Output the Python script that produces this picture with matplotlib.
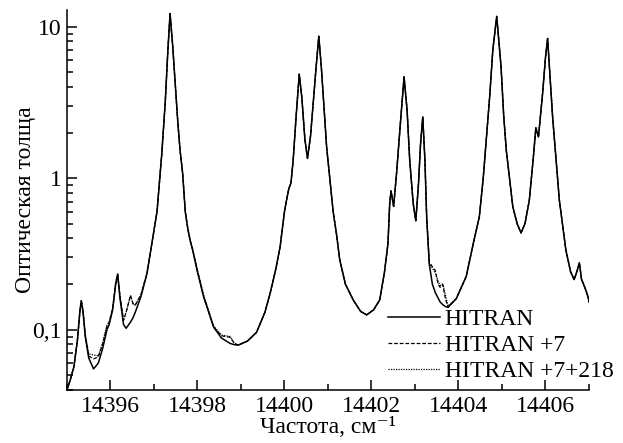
"""
Optical depth spectrum near 14400 cm^-1: HITRAN vs. HITRAN with extra lines.

Log-scale y-axis, three overlaid curves (solid / dashed / dotted).
"""

import matplotlib
matplotlib.use("Agg")
import matplotlib.pyplot as plt
from matplotlib.ticker import FixedLocator, LogLocator, NullFormatter

# ---------------------------------------------------------------------------
# Data
# ---------------------------------------------------------------------------

freq = [
    14395.00, 14395.08, 14395.16, 14395.24, 14395.30, 14395.33, 14395.37,
    14395.42, 14395.50, 14395.61, 14395.72, 14395.82, 14395.92, 14395.97,
    14396.05, 14396.12, 14396.165, 14396.22, 14396.30, 14396.36, 14396.46,
    14396.52, 14396.57, 14396.70, 14396.84, 14396.97, 14397.07, 14397.18,
    14397.26, 14397.32, 14397.37, 14397.43, 14397.49, 14397.55, 14397.60,
    14397.66, 14397.72, 14397.78, 14397.83, 14397.89, 14397.99, 14398.14,
    14398.37, 14398.55, 14398.75, 14398.85, 14398.94, 14399.15, 14399.36,
    14399.55, 14399.67, 14399.80, 14399.90, 14400.00, 14400.05, 14400.10,
    14400.15, 14400.20, 14400.27, 14400.34, 14400.40, 14400.47, 14400.53,
    14400.60, 14400.66, 14400.73, 14400.79, 14400.85, 14400.90, 14400.97,
    14401.05, 14401.12, 14401.20, 14401.27, 14401.40, 14401.58, 14401.75,
    14401.89, 14402.05, 14402.19, 14402.30, 14402.38, 14402.42, 14402.45,
    14402.51, 14402.58, 14402.66, 14402.75, 14402.82, 14402.88, 14402.96,
    14403.02, 14403.08, 14403.13, 14403.18, 14403.23, 14403.27, 14403.33,
    14403.40, 14403.47, 14403.53, 14403.58, 14403.64, 14403.70, 14403.76,
    14403.95, 14404.18, 14404.35, 14404.48, 14404.57, 14404.64, 14404.72,
    14404.79, 14404.88, 14404.98, 14405.04, 14405.10, 14405.25, 14405.35,
    14405.44, 14405.53, 14405.63, 14405.72, 14405.78, 14405.84, 14405.935,
    14406.00, 14406.05, 14406.10, 14406.165, 14406.32, 14406.47, 14406.58,
    14406.66, 14406.73, 14406.78, 14406.83, 14406.87, 14406.93, 14406.99,
    14407.00,
]

tau_hitran = [
    0.040, 0.047, 0.057, 0.085, 0.135, 0.155, 0.130,
    0.090, 0.065, 0.055, 0.060, 0.075, 0.100, 0.108,
    0.135, 0.200, 0.232, 0.160, 0.108, 0.102, 0.112,
    0.120, 0.130, 0.165, 0.235, 0.40, 0.60, 1.45,
    3.2, 7.0, 12.2, 7.5, 4.2, 2.3, 1.53,
    1.07, 0.60, 0.46, 0.39, 0.335, 0.247, 0.165,
    0.104, 0.088, 0.081, 0.0795, 0.079, 0.084, 0.096,
    0.130, 0.173, 0.25, 0.352, 0.60, 0.72, 0.85,
    0.93, 1.31, 2.6, 4.86, 3.4, 1.8, 1.35,
    1.9, 3.11, 5.5, 8.65, 5.3, 3.2, 1.6,
    0.95, 0.60, 0.42, 0.29, 0.20, 0.157, 0.132,
    0.125, 0.135, 0.157, 0.24, 0.37, 0.68, 0.824,
    0.65, 1.1, 2.2, 4.66, 2.8, 1.31, 0.68,
    0.523, 0.90, 1.7, 2.54, 1.3, 0.55, 0.27,
    0.20, 0.175, 0.162, 0.152, 0.146, 0.142, 0.140,
    0.160, 0.225, 0.38, 0.555, 1.0, 1.8, 3.5,
    7.0, 11.7, 5.43, 2.6, 1.53, 0.647, 0.50,
    0.435, 0.50, 0.716, 1.35, 2.15, 1.87, 3.62,
    6.2, 8.36, 5.0, 2.54, 0.716, 0.335, 0.240,
    0.214, 0.245, 0.276, 0.215, 0.201, 0.182, 0.160,
    0.152,
]

tau_plus7 = [
    0.040, 0.047, 0.057, 0.085, 0.135, 0.155, 0.132,
    0.092, 0.067, 0.064, 0.066, 0.080, 0.105, 0.112,
    0.138, 0.202, 0.232, 0.165, 0.115, 0.130, 0.168,
    0.148, 0.145, 0.170, 0.235, 0.40, 0.60, 1.45,
    3.2, 7.0, 12.2, 7.5, 4.2, 2.3, 1.53,
    1.07, 0.60, 0.46, 0.39, 0.335, 0.250, 0.167,
    0.104, 0.091, 0.089, 0.081, 0.079, 0.084, 0.096,
    0.130, 0.173, 0.25, 0.352, 0.60, 0.72, 0.85,
    0.93, 1.31, 2.6, 4.86, 3.4, 1.8, 1.35,
    1.9, 3.11, 5.5, 8.65, 5.3, 3.2, 1.6,
    0.95, 0.60, 0.42, 0.29, 0.20, 0.157, 0.132,
    0.125, 0.135, 0.157, 0.24, 0.37, 0.68, 0.824,
    0.65, 1.1, 2.2, 4.66, 2.8, 1.31, 0.68,
    0.523, 0.90, 1.7, 2.54, 1.3, 0.55, 0.28,
    0.26, 0.245, 0.20, 0.19, 0.198, 0.160, 0.141,
    0.160, 0.225, 0.38, 0.555, 1.0, 1.8, 3.5,
    7.0, 11.7, 5.43, 2.6, 1.53, 0.647, 0.50,
    0.435, 0.50, 0.716, 1.35, 2.15, 1.87, 3.62,
    6.2, 8.36, 5.0, 2.54, 0.716, 0.335, 0.240,
    0.214, 0.245, 0.276, 0.215, 0.201, 0.182, 0.160,
    0.152,
]

tau_plus7_218 = [
    0.040, 0.047, 0.057, 0.085, 0.135, 0.155, 0.133,
    0.094, 0.069, 0.068, 0.067, 0.082, 0.107, 0.112,
    0.138, 0.202, 0.232, 0.165, 0.116, 0.130, 0.168,
    0.148, 0.145, 0.170, 0.235, 0.40, 0.60, 1.45,
    3.2, 7.0, 12.2, 7.5, 4.2, 2.3, 1.53,
    1.07, 0.60, 0.46, 0.39, 0.340, 0.255, 0.170,
    0.106, 0.092, 0.090, 0.081, 0.079, 0.084, 0.096,
    0.130, 0.173, 0.25, 0.352, 0.60, 0.72, 0.85,
    0.93, 1.31, 2.6, 4.86, 3.4, 1.8, 1.35,
    1.9, 3.11, 5.5, 8.65, 5.3, 3.2, 1.6,
    0.95, 0.60, 0.42, 0.29, 0.20, 0.157, 0.132,
    0.125, 0.135, 0.157, 0.24, 0.37, 0.68, 0.824,
    0.65, 1.1, 2.2, 4.66, 2.8, 1.31, 0.68,
    0.523, 0.90, 1.7, 2.54, 1.3, 0.55, 0.27,
    0.255, 0.235, 0.21, 0.195, 0.200, 0.170, 0.143,
    0.160, 0.225, 0.38, 0.555, 1.0, 1.8, 3.5,
    7.0, 11.7, 5.43, 2.6, 1.53, 0.647, 0.50,
    0.435, 0.50, 0.716, 1.35, 2.15, 1.87, 3.62,
    6.2, 8.36, 5.0, 2.54, 0.716, 0.335, 0.240,
    0.214, 0.245, 0.276, 0.215, 0.201, 0.182, 0.160,
    0.152,
]

series_labels = ["HITRAN", "HITRAN +7", "HITRAN +7+218"]
x_ticks = [14396, 14398, 14400, 14402, 14404, 14406]
x_minor = [14395, 14397, 14399, 14401, 14403, 14405, 14407]
y_ticks = [0.1, 1, 10]
y_ticklabels = ["0,1", "1", "10"]

# ---------------------------------------------------------------------------
# Plot
# ---------------------------------------------------------------------------

plt.rcParams["font.family"] = ["Liberation Serif", "DejaVu Serif"]
FS = 17

fig = plt.figure(figsize=(6.23, 4.43), dpi=100)
ax = fig.add_axes([0.1075, 0.1196, 0.8378, 0.8574])

ax.plot(freq, tau_hitran, color="black", lw=1.1, ls="-", label=series_labels[0])
ax.plot(freq, tau_plus7, color="black", lw=0.9, ls=(0, (3, 1.5)), label=series_labels[1])
ax.plot(freq, tau_plus7_218, color="black", lw=0.9, ls=(0, (1, 1)), label=series_labels[2])

ax.set_yscale("log")
ax.set_xlim(14395, 14407)
ax.set_ylim(0.0399, 12.85)

ax.set_xticks(x_ticks)
ax.set_xticklabels([str(t) for t in x_ticks], fontsize=FS)
ax.xaxis.set_minor_locator(FixedLocator(x_minor))
ax.set_yticks(y_ticks)
ax.set_yticklabels(y_ticklabels, fontsize=FS)
ax.yaxis.set_minor_locator(LogLocator(base=10, subs=range(2, 10)))
ax.yaxis.set_minor_formatter(NullFormatter())

ax.tick_params(which="major", direction="in", length=7, width=1.1, pad=4)
ax.tick_params(which="minor", direction="in", length=4.5, width=1.1)
ax.tick_params(top=False, right=False, which="both")

for side in ("top", "right"):
    ax.spines[side].set_visible(False)
for side in ("left", "bottom"):
    ax.spines[side].set_linewidth(1.1)

ax.set_xlabel("Частота, см\u207b\u00b9", fontsize=FS, labelpad=0)
ax.set_ylabel("Оптическая толща", fontsize=FS, labelpad=-3)

ax.legend(loc="lower left", bbox_to_anchor=(0.615, 0.021), frameon=False,
          fontsize=FS, handlelength=2.2, handletextpad=0.2,
          labelspacing=0.18, borderaxespad=0.0, borderpad=0.0)

fig.savefig("out.png", dpi=100)
